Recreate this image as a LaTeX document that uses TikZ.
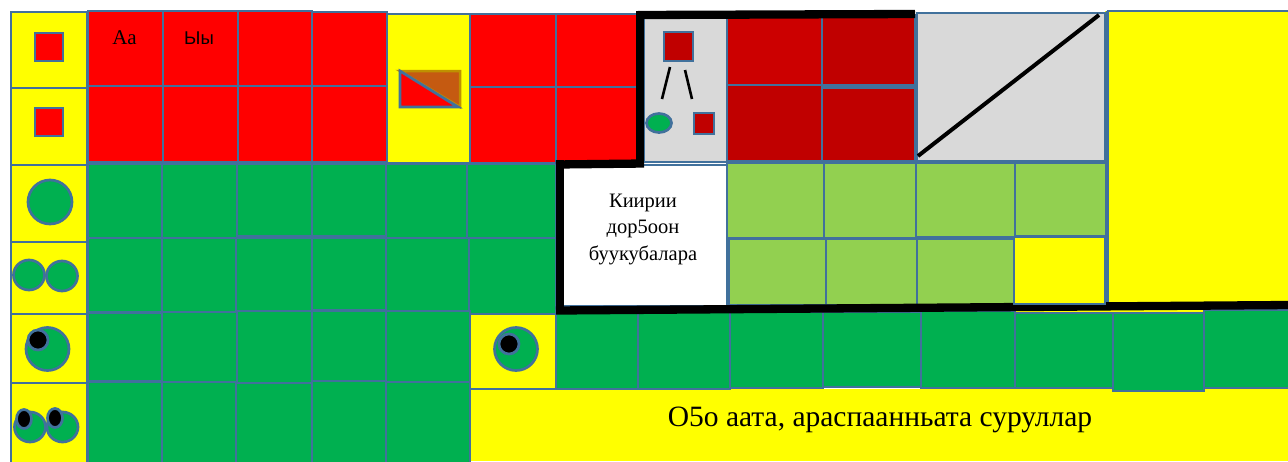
\documentclass[tikz,border=0pt]{standalone}
\usepackage{fontspec}
\setmainfont{Liberation Serif}
\newfontfamily\arialfont{Liberation Sans}
\definecolor{cellblue}{HTML}{41719C}
\definecolor{cyel}{HTML}{FFFF00}
\definecolor{cred}{HTML}{FF0000}
\definecolor{cgreen}{HTML}{00B050}
\definecolor{clime}{HTML}{92D050}
\definecolor{cdark}{HTML}{C00000}
\definecolor{cdarkb}{HTML}{CC0000}
\definecolor{cgray}{HTML}{D9D9D9}
\definecolor{corange}{HTML}{C55A11}
\definecolor{cgold}{HTML}{BF9000}
\tikzset{
  bluecell/.style={draw=cellblue,line width=2.7pt},
  wall/.style={draw=black,line width=8.3pt},
  stick/.style={draw=black,line width=2.6pt},
  lab/.style={align=center,inner sep=0pt,text=black},
  pupil/.style={fill=black,draw=cellblue,line width=2.7pt},
}
\newcommand{\cel}[5]{\path[bluecell,fill=#5] (#1,#2) rectangle (#3,#4);}
\begin{document}
\begin{tikzpicture}[x=1pt,y=-1pt]
\useasboundingbox[fill=white] (0,0) rectangle (1288,461);
% bottom yellow band and right yellow block
\path[fill=cyel] (470,389) rectangle (1288,461);
\path[fill=cyel] (1105,11) rectangle (1288,314);
\draw[cellblue,line width=2.7pt] (1107,11) -- (1288,11);
\path[fill=cyel] (1013,300) rectangle (1204,314);
% left column
\cel{11}{12}{87}{88}{cyel}
\cel{11}{88}{87}{165}{cyel}
\cel{11}{165}{87}{242}{cyel}
\cel{11}{242}{87}{314}{cyel}
\cel{11}{314}{87}{383}{cyel}
\cel{11}{383}{87}{463}{cyel}
% red block
\cel{88}{11}{163}{86}{cred}
\cel{163}{11}{238}{86}{cred}
\cel{238}{11}{312}{86}{cred}
\cel{312}{12}{387}{86}{cred}
\cel{88}{86}{163}{162}{cred}
\cel{163}{86}{238}{162}{cred}
\cel{238}{86}{312}{162}{cred}
\cel{312}{86}{387}{162}{cred}
\cel{387}{14}{470}{163}{cyel}
\cel{470}{14}{556}{87}{cred}
\cel{556}{14}{638}{87}{cred}
\cel{470}{87}{556}{163}{cred}
\cel{556}{87}{638}{162}{cred}
% green block
\cel{88}{164}{162}{238}{cgreen}
\cel{162}{164}{237}{238}{cgreen}
\cel{237}{164}{312}{236}{cgreen}
\cel{312}{164}{386}{236}{cgreen}
\cel{386}{164}{467}{238}{cgreen}
\cel{467}{164}{556}{238}{cgreen}
\cel{88}{238}{162}{312}{cgreen}
\cel{162}{238}{236}{312}{cgreen}
\cel{236}{238}{312}{311}{cgreen}
\cel{312}{238}{386}{310}{cgreen}
\cel{386}{238}{469}{311}{cgreen}
\cel{469}{238}{556}{314}{cgreen}
\cel{88}{313}{162}{381}{cgreen}
\cel{162}{312}{237}{382}{cgreen}
\cel{237}{311}{312}{383}{cgreen}
\cel{312}{311}{386}{381}{cgreen}
\cel{386}{311}{470}{382}{cgreen}
\cel{88}{382}{162}{463}{cgreen}
\cel{162}{382}{236}{463}{cgreen}
\cel{236}{383}{312}{463}{cgreen}
\cel{312}{381}{386}{463}{cgreen}
\cel{386}{382}{470}{463}{cgreen}
\cel{470}{314}{556}{389}{cyel}
% bottom green row
\cel{556}{312}{638}{389}{cgreen}
\cel{638}{312}{730}{389}{cgreen}
\cel{730}{312}{823}{388}{cgreen}
\cel{823}{312}{921}{387}{cgreen}
\cel{921}{311}{1015}{388}{cgreen}
\cel{1015}{313}{1113}{388}{cgreen}
\cel{1113}{313}{1204}{391}{cgreen}
\cel{1204}{310}{1290}{388}{cgreen}
% dark red and grey cells
\cel{644}{14}{727}{162}{cgray}
\cel{727}{15}{822}{85}{cdarkb}
\cel{822}{15}{915}{85.5}{cdark}
\cel{727}{85}{822}{161}{cdark}
\cel{822}{88}{915}{161}{cdark}
\cel{917}{13}{1105}{161}{cgray}
% light green and white
\path[fill=white,bluecell] (558,165) rectangle (727,306);
\cel{727}{163}{824}{238}{clime}
\cel{824}{163}{916}{238}{clime}
\cel{916}{163}{1015}{237}{clime}
\cel{1015}{163}{1106}{236}{clime}
\cel{729}{239}{826}{305}{clime}
\cel{826}{239}{917}{305}{clime}
\cel{917}{239}{1014}{305}{clime}
% thick lower wall, under the yellow cell
\coordinate (w9) at (556,310.5); \coordinate (w10) at (1290,305);
\draw[wall] (w9) -- (w10);
\cel{1014}{237}{1105}{304}{cyel}
\draw[cellblue,line width=3pt] (1107,11) -- (1107,302);
% small legend marks
\cel{35}{33}{63}{61}{cred}
\cel{35}{108}{63}{136}{cred}
\path[bluecell,fill=cgreen] (50,202) circle (22);
\path[bluecell,fill=cgreen] (29,275) ellipse (15.5 and 15);
\path[bluecell,fill=cgreen] (62,276) ellipse (15.5 and 15);
\path[bluecell,fill=cgreen] (47.5,349) circle (21.5);
\path[pupil] (38,340) circle (10);
\path[bluecell,fill=cgreen] (30,427) ellipse (15.5 and 15);
\path[bluecell,fill=cgreen] (62.5,427) ellipse (15.5 and 15);
\path[pupil] (24,419) ellipse (7.5 and 9.5);
\path[pupil] (55,418) ellipse (7.5 and 9.5);
\path[bluecell,fill=cgreen] (516,349) circle (21.5);
\path[pupil] (509,344) circle (10);
% triangle mark
\path[fill=corange,draw=cgold,line width=2.5pt] (400,71) -- (460,71) -- (460,107) -- cycle;
\path[bluecell,fill=cred] (400,71) -- (458,107) -- (400,107) -- cycle;
% mark in grey cell
\cel{664}{32}{693}{61}{cdark}
\cel{694}{113}{714}{134}{cdark}
\path[bluecell,fill=cgreen] (659,123) ellipse (12.5 and 9.5);
\coordinate (s1a) at (670,67); \coordinate (s1b) at (662,99);
\coordinate (s2a) at (685,70); \coordinate (s2b) at (692,99);
\draw[stick] (s1a) -- (s1b);
\draw[stick] (s2a) -- (s2b);
\coordinate (da) at (918,156); \coordinate (db) at (1099,15);
\draw[black,line width=4pt] (da) -- (db);
% thick walls
\coordinate (w1) at (640,11); \coordinate (w2) at (640,166);
\coordinate (w3) at (638,15); \coordinate (w4) at (915,14);
\coordinate (w5) at (556,164.5); \coordinate (w6) at (644,163.5);
\coordinate (w7) at (560,160); \coordinate (w8) at (560,314);
\draw[wall] (w1) -- (w2);
\draw[wall] (w3) -- (w4);
\draw[wall] (w5) -- (w6);
\draw[wall] (w7) -- (w8);
% text
\node[lab,font=\fontsize{20.5}{26.5}\selectfont] (t1) at (643,229) {Киирии\\дор5оон\\буукубалара};
\node[lab,font=\fontsize{29.5}{34}\selectfont] (t2) at (880,420) {О5о аата, араспаанньата суруллар};
\node[lab,font=\fontsize{21}{24}\selectfont] (t3) at (124.5,38) {Аа};
\node[lab,font=\arialfont\fontsize{18.5}{22}\selectfont] (t4) at (199,38) {Ыы};
\end{tikzpicture}
\end{document}
